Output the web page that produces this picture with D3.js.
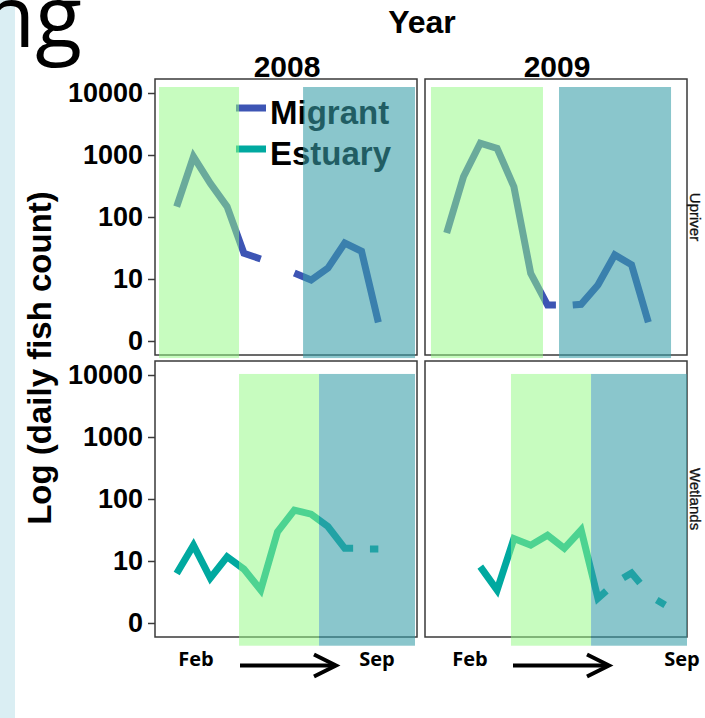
<!DOCTYPE html>
<html>
<head>
<meta charset="utf-8">
<script src="https://cdn.jsdelivr.net/npm/d3@7"></script>
<style>
  body { margin: 0; background: #fff; }
  svg { display: block; }
</style>
</head>
<body>
<div id="chart"></div>
<script>
// facet labels
const years = ["2008", "2009"];
const sites = ["Upriver", "Wetlands"];
const seriesNames = ["Migrant", "Estuary"];

// log axis ticks (the "0" label sits at a count of 1)
const tickValues = [1, 10, 100, 1000, 10000];
const tickLabels = ["0", "10", "100", "1000", "10000"];

// daily counts, sampled by week from Feb (0) to Sep; null = no sample
const upriver2008Weeks = [0, 2, 4, 6, 8, 10, 12, 14, 16, 18, 20, 22, 24];
const upriver2008Counts = [147, 940, 350, 147, 26, 21, null, 12.5, 9.6, 15, 38, 28, 2];

const upriver2009Weeks = [0, 2, 4, 6, 8, 10, 12, 13, 14, 15, 16, 18, 20, 22, 24];
const upriver2009Counts = [55, 446, 1550, 1280, 308, 12.3, 3.8, 3.8, null, 3.8, 3.9, 8, 24.5, 17, 2];

const wetlands2008Weeks = [0, 2, 4, 6, 8, 10, 12, 14, 16, 18, 20, 21, 22, 23, 24];
const wetlands2008Counts = [6.3, 18, 5.3, 11.7, 7.4, 3.4, 29.6, 66, 57, 36, 16, 16, null, 15.6, 15.6];

const wetlands2009Weeks = [4, 6, 8, 10, 12, 14, 16, 18, 19, 20, 21, 22, 23, 24, 25, 26];
const wetlands2009Counts = [8.1, 3.4, 23, 18, 26, 16, 31.6, 2.5, 3.3, null, 5.3, 6.4, 4.4, null, 2.35, 1.95];

// shaded windows in weeks: [upriver 2008, upriver 2009, wetlands 2008, wetlands 2009]
const greenWindows = [[-2.1, 7.42], [-1.87, 11.46], [7.42, 16.94], [7.65, 17.18]];
const tealWindows = [[15.04, 28.36], [13.37, 26.7], [16.94, 28.36], [17.18, 28.6]];

const W = 705, H = 718;
const svg = d3.select("#chart").append("svg")
  .attr("width", W).attr("height", H)
  .style("font-family", "'Liberation Sans', Arial, sans-serif");

// slide leftovers: side bar and clipped title
svg.append("rect").attr("x", 0).attr("y", 0).attr("width", 15).attr("height", H).attr("fill", "#daeef3");
svg.append("text")
  .attr("x", 82).attr("y", 47)
  .attr("text-anchor", "end")
  .attr("font-family", "'Open Sans', sans-serif")
  .attr("font-size", 86)
  .attr("fill", "#000")
  .text("ng");

const panelW = 262, panelH = 276;
const colX = [155, 425];
const rowY = [79, 361];
const shadeExtent = [[0.53, 12500], [0.43, 10400]]; // per row, in counts

const x = d3.scaleLinear().domain([-2.58, 28.6]).range([0, panelW]);
const y = d3.scaleLog().domain([Math.pow(10, -0.226), Math.pow(10, 4.226)]).range([panelH, 0]);
const colour = d3.scaleOrdinal().domain(seriesNames).range(["#3d55b4", "#00a9a0"]);

const panels = [
  { row: 0, col: 0, weeks: upriver2008Weeks, counts: upriver2008Counts, series: "Migrant" },
  { row: 0, col: 1, weeks: upriver2009Weeks, counts: upriver2009Counts, series: "Migrant" },
  { row: 1, col: 0, weeks: wetlands2008Weeks, counts: wetlands2008Counts, series: "Estuary" },
  { row: 1, col: 1, weeks: wetlands2009Weeks, counts: wetlands2009Counts, series: "Estuary" }
];

const line = d3.line()
  .defined(d => d[1] != null)
  .x(d => x(d[0]))
  .y(d => y(d[1]));

panels.forEach((p, i) => {
  const g = svg.append("g").attr("transform", `translate(${colX[p.col]},${rowY[p.row]})`);

  g.append("rect")
    .attr("width", panelW).attr("height", panelH)
    .attr("fill", "none").attr("stroke", "#3a3a3a").attr("stroke-width", 1.5);

  if (p.col === 0) {
    const axis = g.append("g")
      .call(d3.axisLeft(y).tickValues(tickValues).tickFormat((d, k) => tickLabels[k]).tickSize(7).tickPadding(5));
    axis.select(".domain").remove();
    axis.selectAll(".tick line").attr("stroke", "#3a3a3a").attr("stroke-width", 1.5);
    axis.selectAll(".tick text")
      .attr("fill", "#000")
      .attr("font-size", 27)
      .attr("font-weight", "bold")
      .attr("font-family", "'Liberation Sans', Arial, sans-serif");
  }

  const pts = p.weeks.map((w, k) => [w, p.counts[k]]);
  g.append("path")
    .datum(pts)
    .attr("d", line)
    .attr("fill", "none")
    .attr("stroke", colour(p.series))
    .attr("stroke-width", 7)
    .attr("stroke-linejoin", "miter")
    .attr("stroke-linecap", "butt");

  // legend sits inside the first panel, under the shading
  if (i === 0) {
    seriesNames.forEach((name, k) => {
      const ly = 29 + k * 41;
      g.append("line")
        .attr("x1", 81).attr("x2", 111).attr("y1", ly).attr("y2", ly)
        .attr("stroke", colour(name)).attr("stroke-width", 7);
      g.append("text")
        .attr("x", 115).attr("y", ly + 16)
        .attr("font-size", 33).attr("font-weight", "bold")
        .attr("fill", "#000")
        .text(name);
    });
  }

  const ext = shadeExtent[p.row];
  [[greenWindows[i], "#94f985", 0.52], [tealWindows[i], "#389ea8", 0.59]].forEach(([win, fill, op]) => {
    g.append("rect")
      .attr("x", x(win[0]))
      .attr("width", x(win[1]) - x(win[0]))
      .attr("y", y(ext[1]))
      .attr("height", y(ext[0]) - y(ext[1]))
      .attr("fill", fill)
      .attr("fill-opacity", op);
  });
});

// facet strips
svg.append("text")
  .attr("x", 422).attr("y", 33)
  .attr("text-anchor", "middle")
  .attr("font-size", 32).attr("font-weight", "bold")
  .text("Year");

years.forEach((yr, c) => {
  svg.append("text")
    .attr("x", colX[c] + panelW / 2 + 1).attr("y", 77)
    .attr("text-anchor", "middle")
    .attr("font-size", 30).attr("font-weight", "bold")
    .text(yr);
});

sites.forEach((s, r) => {
  svg.append("text")
    .attr("transform", `translate(690,${rowY[r] + panelH / 2}) rotate(90)`)
    .attr("text-anchor", "middle")
    .attr("font-size", 15)
    .attr("fill", "#111")
    .attr("stroke", "#111").attr("stroke-width", 0.3)
    .text(s);
});

// y title
svg.append("text")
  .attr("transform", "translate(51,358) rotate(-90)")
  .attr("text-anchor", "middle")
  .attr("font-size", 33).attr("font-weight", "bold")
  .text("Log (daily fish count)");

// Feb -> Sep annotation under each column
const monthMarks = [
  { feb: 196, sep: 377, a0: 240, a1: 336 },
  { feb: 470, sep: 682, a0: 513, a1: 609 }
];
monthMarks.forEach(m => {
  const ty = 666;
  [["Feb", m.feb], ["Sep", m.sep]].forEach(([t, cx]) => {
    svg.append("text")
      .attr("x", cx).attr("y", ty)
      .attr("text-anchor", "middle")
      .attr("font-family", "'Open Sans', sans-serif")
      .attr("font-size", 20).attr("font-weight", "bold")
      .text(t);
  });
  const ay = 665.5;
  svg.append("line")
    .attr("x1", m.a0).attr("x2", m.a1 - 2).attr("y1", ay).attr("y2", ay)
    .attr("stroke", "#000").attr("stroke-width", 4);
  svg.append("path")
    .attr("d", `M${m.a1 - 22},${ay - 11}L${m.a1},${ay}L${m.a1 - 22},${ay + 11}`)
    .attr("fill", "none").attr("stroke", "#000").attr("stroke-width", 4);
});
</script>
</body>
</html>
